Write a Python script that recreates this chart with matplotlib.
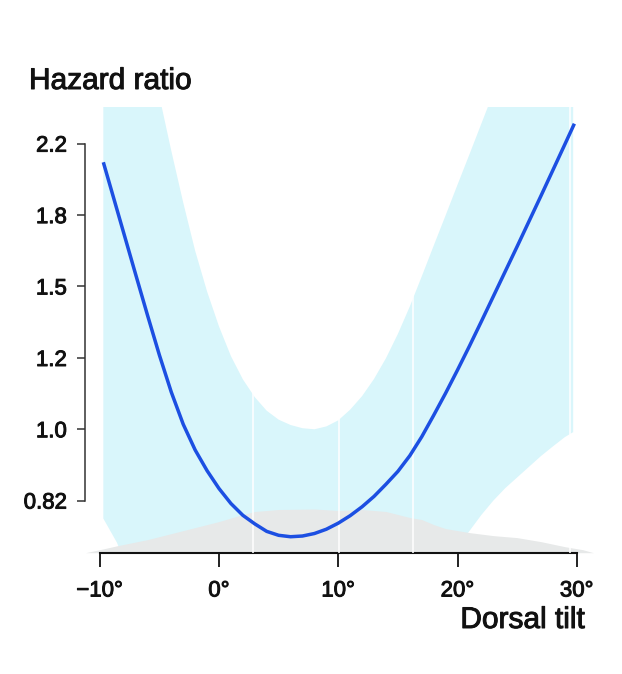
import numpy as np
import matplotlib
matplotlib.use("Agg")
import matplotlib.pyplot as plt
import matplotlib.transforms as mtransforms
import matplotlib.patheffects as pe

plt.rcParams['font.family'] = ['Liberation Sans', 'DejaVu Sans']

# ---- data ----
# fitted curve: dorsal tilt (deg) vs log hazard ratio
tilt = [-9.7, -9.0, -8.0, -7.0, -6.0, -5.0, -4.0, -3.0, -2.0, -1.0, 0.0, 1.0, 2.0,
        3.0, 4.0, 5.0, 6.0, 7.0, 8.0, 9.0, 10.0, 11.0, 12.0, 13.0, 14.0, 15.0,
        16.0, 17.0, 18.0, 19.0, 20.0, 21.0, 22.0, 23.0, 24.0, 25.0, 26.0, 27.0,
        28.0, 29.0, 29.8]
log_hr = [0.748, 0.667, 0.551, 0.435, 0.320, 0.208, 0.104, 0.014, -0.058, -0.116,
          -0.166, -0.208, -0.241, -0.265, -0.286, -0.297, -0.301, -0.299, -0.292,
          -0.280, -0.263, -0.242, -0.217, -0.188, -0.154, -0.118, -0.074, -0.021,
          0.039, 0.101, 0.166, 0.233, 0.302, 0.372, 0.442, 0.512, 0.583, 0.654,
          0.726, 0.798, 0.856]

# confidence band (log hazard ratio)
ci_tilt = [-9.7, -8.55, -7.0, -6.0, -5.0, -4.81, -4.0, -3.0, -2.0, -1.0, 0.0, 1.0,
           2.0, 3.0, 4.0, 5.0, 6.0, 7.0, 8.0, 9.0, 10.0, 11.0, 12.0, 13.0, 14.0,
           15.0, 16.0, 17.0, 18.0, 19.0, 20.0, 21.0, 22.0, 23.0, 24.0, 25.0, 26.0,
           27.0, 28.0, 29.0, 29.7]
ci_upper = [1.55, 1.40, 1.22, 1.10, 0.935, 0.904, 0.78, 0.635, 0.50, 0.386, 0.288,
            0.205, 0.140, 0.090, 0.052, 0.027, 0.012, 0.003, 0.0, 0.008, 0.025,
            0.055, 0.093, 0.141, 0.199, 0.267, 0.344, 0.428, 0.514, 0.599, 0.685,
            0.770, 0.856, 0.942, 1.03, 1.11, 1.20, 1.28, 1.37, 1.46, 1.52]
ci_lower = [-0.25, -0.318, -0.45, -0.45, -0.45, -0.45, -0.45, -0.45, -0.45, -0.45,
            -0.45, -0.45, -0.45, -0.45, -0.45, -0.45, -0.45, -0.45, -0.45, -0.45,
            -0.45, -0.45, -0.45, -0.45, -0.45, -0.45, -0.45, -0.45, -0.45, -0.38,
            -0.33, -0.285, -0.24, -0.20, -0.165, -0.135, -0.105, -0.075, -0.048,
            -0.022, -0.008]

# spline knots (white vertical lines)
knots = [2.85, 10.06, 16.3, 29.4]

# distribution of dorsal tilt (relative density)
dens_x = [-11.2, -10.0, -8.5, -6.0, -5.0, -3.0, 0.0, 2.0, 3.0, 5.0, 8.0, 10.0, 12.0,
          14.0, 16.0, 17.0, 18.0, 19.0, 20.0, 21.0, 23.0, 25.0, 27.0, 29.0, 30.5, 31.4]
dens_y = [0.0, 0.3, 0.7, 1.3, 1.6, 2.2, 3.1, 3.8, 4.1, 4.3, 4.35, 4.2, 4.3, 4.1,
          3.5, 3.3, 2.8, 2.4, 2.2, 2.0, 1.7, 1.5, 1.1, 0.6, 0.3, 0.0]

xtick_values = [-10, 0, 10, 20, 30]
xtick_labels = ['\u221210\u00b0', '0\u00b0', '10\u00b0', '20\u00b0', '30\u00b0']
ytick_values = [0.819, 1.0, 1.221, 1.492, 1.822, 2.226]
ytick_labels = ['0.82', '1.0', '1.2', '1.5', '1.8', '2.2']

# ---- figure ----
W, H = 622, 674
fig = plt.figure(figsize=(W / 100, H / 100), dpi=100)
ax = fig.add_axes([85 / W, 1 - 552.7 / H, 510 / W, 446 / H])
ax.set_yscale('log')
ax.set_xlim(-11.237, 31.53)
ax.set_ylim(0.7077, 2.4685)

BAND = '#d9f6fb'
GRAY = '#e7e9e9'
BLUE = '#1c4fe2'
INK = '#111111'
bold = [pe.withStroke(linewidth=0.7, foreground=INK)]

ax.fill_between(ci_tilt, np.exp(ci_lower), np.exp(ci_upper), color=BAND,
                linewidth=0, zorder=1)

trans = mtransforms.blended_transform_factory(ax.transData, ax.transAxes)
dens = np.array(dens_y)
ax.fill_between(dens_x, 0, dens / dens.max() * 0.098, transform=trans,
                color=GRAY, linewidth=0, zorder=2)

for k in knots:
    ax.axvline(k, color='white', lw=1.1, zorder=3)

ax.plot(tilt, np.exp(log_hr), color=BLUE, lw=2.5, zorder=4,
        solid_capstyle='butt', solid_joinstyle='round')

for s in ['top', 'right']:
    ax.spines[s].set_visible(False)
ax.spines['left'].set_bounds(ytick_values[0], ytick_values[-1])
ax.spines['bottom'].set_bounds(-10, 30)
ax.spines['left'].set_linewidth(1.1)
ax.spines['bottom'].set_linewidth(1.5)
ax.spines['left'].set_color('#333333')
ax.spines['bottom'].set_color(INK)

ax.yaxis.set_minor_locator(matplotlib.ticker.NullLocator())
ax.set_yticks(ytick_values)
ax.set_yticklabels(ytick_labels)
ax.set_xticks(xtick_values)
ax.set_xticklabels(xtick_labels)
ax.tick_params(axis='y', length=6, width=1.1, color='#333333', pad=7,
               labelsize=16, labelcolor=INK)
ax.tick_params(axis='x', length=10, width=1.3, color=INK, pad=10,
               labelsize=16, labelcolor=INK)
for lab in ax.get_xticklabels() + ax.get_yticklabels():
    lab.set_path_effects(bold)
ax.set_facecolor('none')

fig.text(29 / W, 1 - 89 / H, 'Hazard ratio', ha='left', va='baseline',
         fontsize=21.5, color=INK, path_effects=bold)
fig.text(585 / W, 46 / H, 'Dorsal tilt', ha='right', va='baseline',
         fontsize=21.5, color=INK, path_effects=bold)

fig.savefig('out.png', dpi=100, facecolor='white')
